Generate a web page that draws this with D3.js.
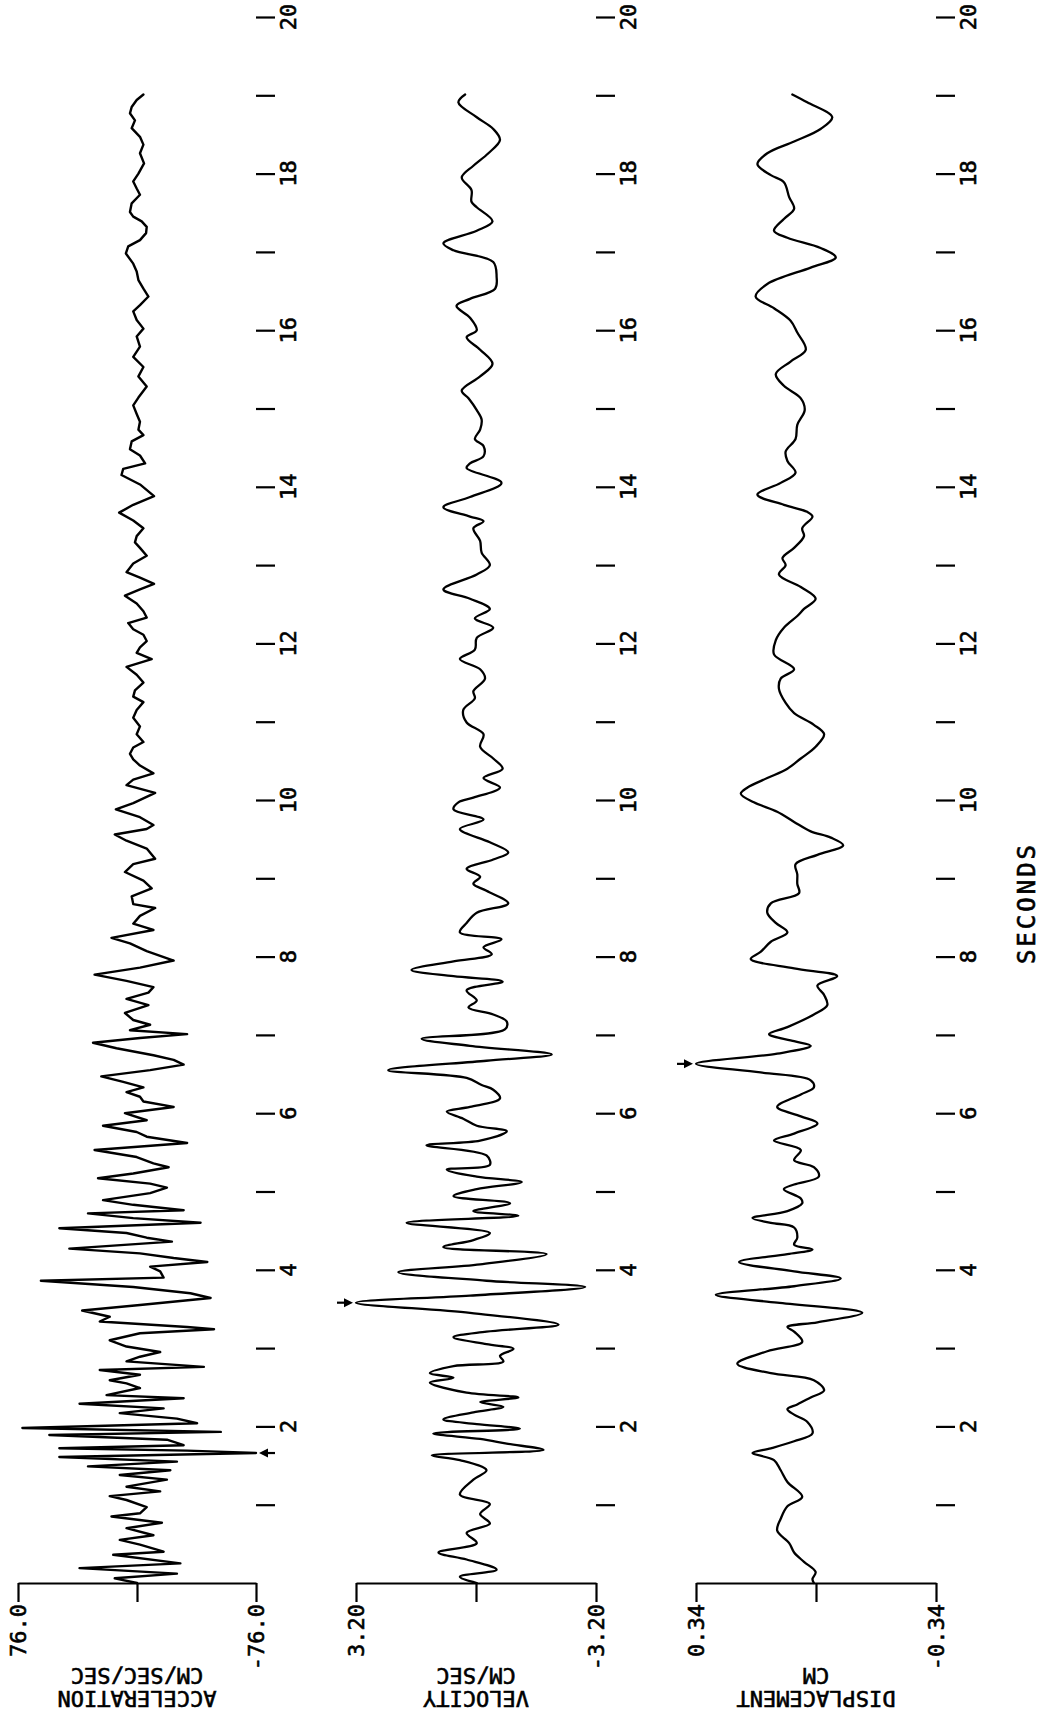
<!DOCTYPE html>
<html><head><meta charset="utf-8">
<script src="https://cdn.jsdelivr.net/npm/d3@7"></script>
<style>body{margin:0;background:#fff} svg{display:block}</style>
</head><body>
<script>
// ---------------- DATA ----------------
const accTime = [0.00,0.06,0.12,0.19,0.25,0.36,0.40,0.49,0.55,0.61,0.70,0.77,0.85,0.89,0.97,1.06,1.11,1.17,1.23,1.32,1.38,1.44,1.49,1.55,1.61,1.66,1.69,1.72,1.76,1.83,1.89,1.93,1.98,2.04,2.10,2.17,2.23,2.29,2.36,2.40,2.49,2.55,2.59,2.66,2.72,2.76,2.83,2.89,2.95,3.02,3.10,3.19,3.24,3.27,3.34,3.40,3.48,3.55,3.64,3.70,3.78,3.86,3.90,3.98,4.04,4.10,4.15,4.21,4.27,4.36,4.41,4.47,4.53,4.60,4.66,4.72,4.76,4.83,4.89,4.98,5.05,5.10,5.17,5.23,5.31,5.36,5.44,5.53,5.62,5.70,5.76,5.84,5.91,6.00,6.08,6.15,6.21,6.27,6.33,6.40,6.47,6.55,6.62,6.68,6.74,6.83,6.90,6.96,7.01,7.06,7.13,7.19,7.28,7.38,7.46,7.54,7.61,7.69,7.77,7.86,7.95,8.07,8.17,8.24,8.34,8.42,8.52,8.62,8.67,8.77,8.87,8.97,9.08,9.18,9.25,9.38,9.48,9.56,9.63,9.68,9.78,9.88,9.96,10.09,10.19,10.26,10.34,10.44,10.52,10.59,10.67,10.74,10.84,10.94,11.05,11.15,11.25,11.32,11.40,11.50,11.60,11.70,11.80,11.88,11.95,12.03,12.11,12.18,12.26,12.33,12.41,12.51,12.61,12.69,12.76,12.84,12.91,13.02,13.12,13.22,13.29,13.37,13.47,13.57,13.67,13.77,13.88,14.03,14.15,14.23,14.30,14.40,14.48,14.58,14.66,14.73,14.83,14.93,15.04,15.14,15.28,15.41,15.53,15.66,15.79,15.92,16.02,16.13,16.24,16.32,16.43,16.53,16.64,16.75,16.85,16.98,17.07,17.15,17.24,17.32,17.39,17.45,17.51,17.62,17.73,17.81,17.90,18.00,18.13,18.26,18.37,18.47,18.58,18.68,18.77,18.85,18.94,19.01];
const accValues = [0,14.2,-25.5,36.7,-27.7,15.2,-17.0,-1.9,11.0,-10.5,6.7,-15.9,16.3,-1.9,-6.2,6.7,17.4,-14.8,6.7,-19.1,11.0,-21.3,31.3,-25.5,49.6,-76.0,-32.0,49.6,-29.8,-19.1,56.0,-53.5,73.2,-38.4,-25.5,11.0,-17.0,36.7,-29.8,19.5,-1.9,6.7,17.4,-1.9,23.8,-42.7,6.7,-1.9,-14.8,6.7,17.4,-1.9,-49.2,-32.0,23.8,17.4,35.0,-1.9,-47.0,-34.1,2.4,61.4,-17.0,-14.8,-8.4,-44.9,-23.4,-1.9,43.2,-22.3,-6.2,6.7,49.6,-40.6,2.4,31.3,-29.8,2.4,21.7,-8.4,-19.1,-8.4,24.9,2.4,-20.2,-10.5,0.2,27.1,-32.0,-6.2,0.2,21.7,-6.2,7.7,-23.4,-4.1,-1.9,6.7,-4.1,8.8,22.8,-8.4,-29.8,-23.4,-10.5,13.1,28.1,-1.9,-32.0,4.5,-8.4,2.4,7.7,-7.3,6.7,-7.3,-10.5,6.7,27.1,-1.9,-23.4,-6.2,4.5,16.3,-10.5,2.4,-1.9,-11.6,2.4,3.4,-9.4,-4.1,7.7,2.4,-11.6,-6.2,6.7,14.2,-6.2,-10.5,-1.9,13.5,2.4,-11.6,6.7,2.4,-10.5,-1.9,2.4,4.5,2.4,-4.1,0.2,-1.9,2.4,0.2,-4.1,2.4,1.3,-4.1,0.2,6.7,-9.4,0.2,-1.9,-6.2,-4.1,2.4,5.6,-6.2,-4.1,0.2,7.7,-1.9,-10.9,-1.9,6.7,2.4,-6.2,-1.9,1.3,0.2,-4.1,2.4,11.4,2.4,-10.9,-1.9,9.9,8.8,-5.2,-1.9,4.5,3.4,-4.1,-0.9,-1.9,0.2,2.4,-0.9,-6.2,-0.9,-4.1,2.4,-1.9,0.2,-4.1,0.2,2.4,-1.9,-7.3,-4.1,-0.9,0.2,2.4,7.1,5.6,-1.9,-5.8,-6.2,-3.0,2.4,4.5,3.4,-1.9,0.2,2.4,-0.9,-4.5,-1.9,-4.1,-1.9,3.4,1.3,4.5,3.4,0.2,-4.1];

const velTime = [0.00,0.08,0.17,0.30,0.39,0.51,0.64,0.76,0.88,1.01,1.13,1.32,1.44,1.57,1.63,1.70,1.78,1.84,1.91,1.97,2.03,2.09,2.18,2.25,2.31,2.37,2.43,2.56,2.62,2.68,2.77,2.83,2.90,2.99,3.05,3.14,3.21,3.30,3.45,3.58,3.67,3.78,3.86,3.97,4.07,4.20,4.29,4.38,4.47,4.60,4.69,4.75,4.85,4.94,5.03,5.12,5.19,5.28,5.34,5.46,5.59,5.65,5.77,5.84,5.93,6.02,6.08,6.19,6.30,6.36,6.45,6.55,6.67,6.75,6.86,6.95,7.07,7.17,7.26,7.35,7.44,7.57,7.68,7.75,7.83,7.94,8.03,8.12,8.22,8.31,8.43,8.56,8.68,8.84,8.93,9.02,9.12,9.24,9.33,9.46,9.63,9.75,9.88,9.97,10.03,10.16,10.28,10.40,10.53,10.68,10.84,10.99,11.15,11.30,11.39,11.55,11.67,11.80,11.92,12.07,12.20,12.32,12.44,12.57,12.69,12.88,13.00,13.16,13.31,13.47,13.56,13.62,13.74,13.87,14.05,14.24,14.30,14.39,14.52,14.61,14.73,14.86,14.98,15.13,15.23,15.41,15.57,15.75,15.91,16.00,16.16,16.31,16.40,16.53,16.68,16.87,17.02,17.11,17.27,17.39,17.57,17.64,17.79,17.95,18.10,18.26,18.43,18.57,18.72,18.91,19.01];
const velValues = [-0.02,0.43,-0.55,0.25,1.00,-0.02,0.25,-0.37,-0.11,-0.37,0.43,0.07,-0.28,0.43,1.18,-1.80,-0.82,-0.11,1.14,-1.17,-0.02,0.87,0.07,-0.73,-0.11,-1.13,0.25,1.23,0.60,1.23,0.60,-0.73,-0.64,-1.00,-0.28,0.60,-0.28,-2.20,0.16,3.20,0.16,-2.91,-0.28,2.07,-0.11,-1.88,0.87,0.07,-0.37,1.85,-1.13,0.07,-0.91,0.60,-0.02,-1.22,-0.02,0.78,-0.37,-0.28,1.32,-0.11,-0.82,-0.02,0.34,0.78,0.16,-0.64,-0.46,-0.15,0.25,2.34,-0.28,-2.02,0.16,1.45,-0.77,-0.82,-0.46,0.20,-0.02,0.25,-0.71,0.60,1.72,0.60,-0.42,-0.20,-0.68,0.43,0.25,-0.02,-0.86,-0.28,0.07,-0.11,0.25,-0.46,-0.86,-0.37,0.43,-0.20,0.60,0.47,0.07,-0.64,-0.20,-0.71,-0.46,-0.11,-0.20,0.25,0.34,0.03,0.07,-0.24,-0.11,0.43,0.03,-0.02,-0.46,0.03,-0.37,0.16,0.87,-0.02,-0.37,-0.15,-0.11,0.07,-0.20,0.16,0.87,0.16,-0.68,0.25,0.16,-0.20,-0.20,0.03,-0.11,-0.15,-0.02,0.20,0.38,-0.11,-0.44,-0.11,0.25,-0.02,0.16,0.52,0.16,-0.51,-0.55,-0.46,0.60,0.87,-0.02,-0.44,-0.02,0.12,0.12,0.38,0.07,-0.33,-0.64,-0.46,-0.02,0.47,0.29];

const dispTime = [0.00,0.05,0.14,0.27,0.39,0.51,0.67,0.82,0.98,1.10,1.29,1.44,1.57,1.66,1.72,1.81,1.91,2.06,2.15,2.22,2.28,2.37,2.46,2.59,2.68,2.80,2.96,3.08,3.21,3.27,3.33,3.45,3.58,3.68,3.79,3.89,3.98,4.10,4.20,4.26,4.32,4.41,4.54,4.60,4.66,4.75,4.85,4.91,5.03,5.09,5.19,5.31,5.40,5.53,5.65,5.74,5.87,5.96,6.08,6.24,6.33,6.42,6.52,6.63,6.76,6.86,6.92,7.01,7.10,7.26,7.38,7.51,7.63,7.75,7.85,7.97,8.06,8.19,8.31,8.43,8.56,8.68,8.81,8.93,9.05,9.18,9.30,9.42,9.52,9.60,9.72,9.85,9.97,10.08,10.16,10.28,10.40,10.53,10.68,10.84,10.96,11.11,11.24,11.42,11.55,11.67,11.86,12.04,12.20,12.35,12.44,12.57,12.72,12.88,13.00,13.09,13.22,13.37,13.47,13.62,13.68,13.77,13.90,14.05,14.18,14.33,14.45,14.61,14.79,14.98,15.13,15.29,15.44,15.60,15.75,15.97,16.12,16.28,16.43,16.59,16.80,16.93,17.05,17.18,17.27,17.42,17.55,17.70,17.89,17.98,18.12,18.26,18.41,18.57,18.72,18.91,19.01];
const dispValues = [0.006,0.010,0.001,0.034,0.062,0.076,0.110,0.100,0.081,0.039,0.081,0.100,0.119,0.180,0.128,0.062,0.010,0.025,0.062,0.081,0.053,0.015,-0.023,0.006,0.128,0.223,0.138,0.039,0.062,0.081,-0.004,-0.131,0.110,0.284,0.062,-0.070,0.062,0.218,0.081,0.010,0.062,0.053,0.062,0.128,0.180,0.081,0.039,0.043,0.091,0.062,-0.008,0.006,0.062,0.043,0.119,0.062,-0.004,0.043,0.110,0.043,0.006,0.015,0.157,0.340,0.110,0.015,0.062,0.133,0.081,0.006,-0.032,-0.023,-0.004,-0.060,0.062,0.185,0.157,0.128,0.081,0.114,0.138,0.128,0.048,0.053,0.053,0.058,-0.004,-0.077,-0.042,0.015,0.062,0.110,0.176,0.213,0.194,0.138,0.081,0.043,0.001,-0.023,0.006,0.062,0.086,0.105,0.100,0.062,0.119,0.114,0.091,0.053,0.034,0.001,0.043,0.105,0.086,0.095,0.062,0.034,0.039,0.010,0.025,0.091,0.166,0.100,0.058,0.081,0.086,0.058,0.053,0.032,0.043,0.091,0.114,0.072,0.029,0.053,0.072,0.119,0.171,0.138,0.015,-0.056,-0.013,0.081,0.119,0.091,0.062,0.076,0.091,0.128,0.166,0.138,0.062,-0.013,-0.046,0.025,0.067];

const timeTicks = [1,2,3,4,5,6,7,8,9,10,11,12,13,14,15,16,17,18,19,20];
const timeTickLabels = ["2","4","6","8","10","12","14","16","18","20"];
const panelNames = ["ACCELERATION","VELOCITY","DISPLACEMENT"];
const panelUnits = ["CM/SEC/SEC","CM/SEC","CM"];
const panelLimits = [76.0, 3.20, 0.34];
const panelMaxLabels = ["76.0","3.20","0.34"];
const panelMinLabels = ["-76.0","-3.20","-0.34"];
const peakTimes = [1.66, 3.58, 6.63];
const peakValues = [-76.0, 3.20, 0.34];
const axisTitle = "SECONDS";

// ---------------- DRAWING ----------------
const W = 1042, H = 1712;
const FONT = "'DejaVu Sans Mono', 'Liberation Mono', monospace";
const svg = d3.select("body").append("svg").attr("width", W).attr("height", H)
  .attr("viewBox", `0 0 ${W} ${H}`);
svg.append("rect").attr("width", W).attr("height", H).attr("fill", "#fff");

const y = d3.scaleLinear().domain([0, 20]).range([1583, 17]);
const panelRanges = [[18, 256], [356, 596], [696, 936]];
const series = [
  {t: accTime, v: accValues, curve: d3.curveLinear, w: 2.4},
  {t: velTime, v: velValues, curve: d3.curveCatmullRom.alpha(0.5), w: 2.3},
  {t: dispTime, v: dispValues, curve: d3.curveCatmullRom.alpha(0.5), w: 2.3}
];

function label(g, tx, ty, rot, anchor, txt, size) {
  return g.append("text").attr("transform", `translate(${tx},${ty}) rotate(${rot})`)
    .attr("text-anchor", anchor).attr("dominant-baseline", "central")
    .attr("font-family", FONT).attr("font-size", size || 22)
    .attr("fill", "#000").attr("stroke", "#000").attr("stroke-width", 0.6)
    .text(txt);
}

panelNames.forEach((name, i) => {
  const lim = panelLimits[i];
  const [x0, x1] = panelRanges[i];
  const x = d3.scaleLinear().domain([lim, -lim]).range([x0, x1]);
  const g = svg.append("g");
  const cx = x(0);
  const y0 = y(0);

  // trace
  const pts = series[i].t.map((t, k) => ({t, v: series[i].v[k]}));
  g.append("path").datum(pts)
    .attr("fill", "none").attr("stroke", "#000").attr("stroke-width", series[i].w)
    .attr("stroke-linejoin", "round").attr("stroke-linecap", "round")
    .attr("d", d3.line().x(d => x(d.v)).y(d => y(d.t)).curve(series[i].curve));

  // amplitude axis (bottom)
  const ax = g.append("g").attr("transform", `translate(0,${y0})`)
    .call(d3.axisBottom(x).tickValues([lim, 0, -lim]).tickSize(19).tickSizeOuter(0).tickFormat(""));
  ax.select(".domain").attr("stroke", "#000").attr("stroke-width", 2.2);
  ax.selectAll(".tick line").attr("stroke", "#000").attr("stroke-width", 2.2);

  // limit labels
  label(g, x(lim), y0 + 21, -90, "end", panelMaxLabels[i]);
  label(g, x(-lim), y0 + 21, -90, "end", panelMinLabels[i]);

  // units and names (upside down)
  label(g, cx, 1675, 180, "middle", panelUnits[i]);
  label(g, cx, 1698, 180, "middle", name);

  // time ticks to the right of the panel
  const ta = g.append("g").attr("transform", `translate(${x1},0)`)
    .call(d3.axisRight(y).tickValues(timeTicks).tickSize(19).tickFormat(""));
  ta.select(".domain").remove();
  ta.selectAll(".tick line").attr("stroke", "#000").attr("stroke-width", 2.2);
  timeTickLabels.forEach(lab => label(g, x1 + 32, y(+lab), -90, "middle", lab));

  // peak arrow
  const py = y(peakTimes[i]);
  const px = x(peakValues[i]);
  const dir = peakValues[i] < 0 ? 1 : -1;
  const tip = px + dir * 3, tail = px + dir * 19;
  g.append("line").attr("x1", tail).attr("y1", py).attr("x2", tip + dir * 6).attr("y2", py)
    .attr("stroke", "#000").attr("stroke-width", 2.2);
  g.append("path")
    .attr("d", `M${tip},${py} L${tip + dir * 9},${py - 4.5} L${tip + dir * 9},${py + 4.5} Z`)
    .attr("fill", "#000");
});

label(svg, 1027, 903, -90, "middle", axisTitle, 24).attr("letter-spacing", 3);
</script>
</body></html>
